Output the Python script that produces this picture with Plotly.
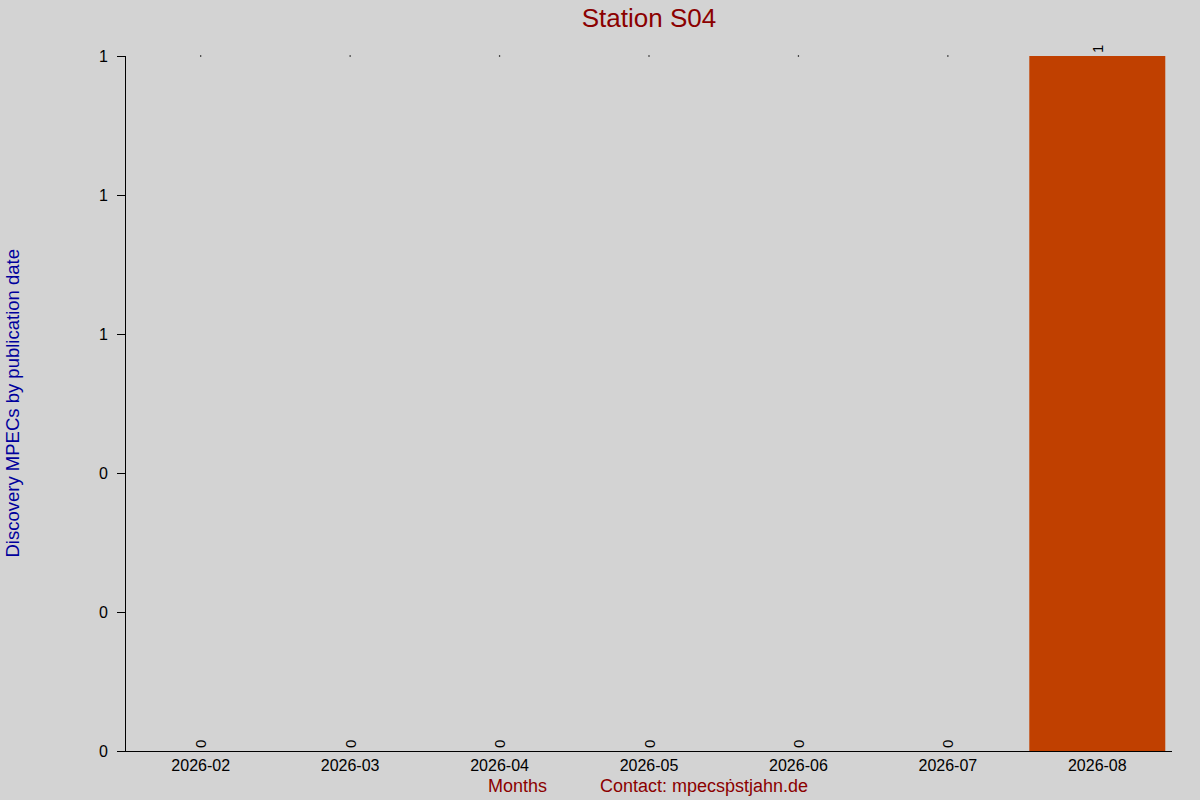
import plotly.graph_objects as go

# Monthly discovery MPEC counts for the station
months = ["2026-02", "2026-03", "2026-04", "2026-05", "2026-06", "2026-07", "2026-08"]
counts = [0, 0, 0, 0, 0, 0, 1]
station = "S04"

BG = "#d3d3d3"
BAR = "#c04000"
RED = "#8b0000"
BLUE = "#00009c"
FONT = "Liberation Sans, Arial, sans-serif"

W, H = 1200, 800
L, R, T, B = 126, 28, 56, 49


def build_figure():
	fig = go.Figure()
	fig.add_trace(go.Bar(x=months, y=counts,
						 marker=dict(color=BAR, line=dict(width=0)),
						 width=0.91,
						 text=[str(c) for c in counts],
						 textposition='outside',
						 textangle=-90,
						 textfont=dict(family=FONT, size=15, color='black'),
						 cliponaxis=False,
						 showlegend=False))

	# tiny dots along the top for the empty months
	top = max(counts)
	empty = [m for m, c in zip(months, counts) if c == 0]
	fig.add_trace(go.Scatter(x=empty, y=[top] * len(empty),
							 mode='markers',
							 marker=dict(color='black', size=1.5),
							 cliponaxis=False,
							 showlegend=False, hoverinfo='skip'))

	pw = W - L - R
	ph = H - T - B
	fig.update_layout(width=W, height=H,
					  paper_bgcolor=BG, plot_bgcolor=BG,
					  margin=dict(l=L, r=R, t=T, b=B, autoexpand=False),
					  font=dict(family=FONT, size=16, color='black'),
					  title=dict(text="Station " + station,
								 x=(L + pw / 2) / W, xanchor='center',
								 y=1 - 18 / H, yanchor='middle',
								 font=dict(size=26, color=RED)),
					  bargap=0.09)
	fig.update_xaxes(type='category', range=[-0.5, len(months) - 0.5],
					 showline=True, linecolor='black', linewidth=1,
					 showgrid=False, ticks='', tickfont=dict(size=16),
					 zeroline=False, automargin=False)
	fig.update_yaxes(range=[0, top], tickvals=[0, 0.2, 0.4, 0.6, 0.8, 1.0],
					 tickformat='.0f', showline=True, linecolor='black',
					 linewidth=1, ticks='outside', ticklen=8, tickcolor='black',
					 ticklabelstandoff=6,
					 showgrid=False, zeroline=False, tickfont=dict(size=16),
					 automargin=False)

	fig.add_annotation(text="Discovery MPECs by publication date",
					   xref='paper', yref='paper', x=(12 - L) / pw, y=0.5,
					   xanchor='center', yanchor='middle', textangle=-90,
					   showarrow=False, font=dict(size=18.5, color=BLUE))
	fig.add_annotation(text="Months", xref='paper', yref='paper',
					   x=(517 - L) / pw, y=-35 / ph,
					   xanchor='center', yanchor='middle', showarrow=False,
					   font=dict(size=18, color=RED))
	fig.add_annotation(text="Contact: mpecs\u1e57stjahn.de", xref='paper', yref='paper',
					   x=(704 - L) / pw, y=-35 / ph,
					   xanchor='center', yanchor='middle', showarrow=False,
					   font=dict(size=18, color=RED))
	return fig


def main():
	fig = build_figure()
	# drop the default page margin so the chart sits flush in the window
	fig.write_html("out.html",
				   config={'displayModeBar': False},
				   post_script="document.body.style.margin='0';")


if __name__ == '__main__':
	main()
